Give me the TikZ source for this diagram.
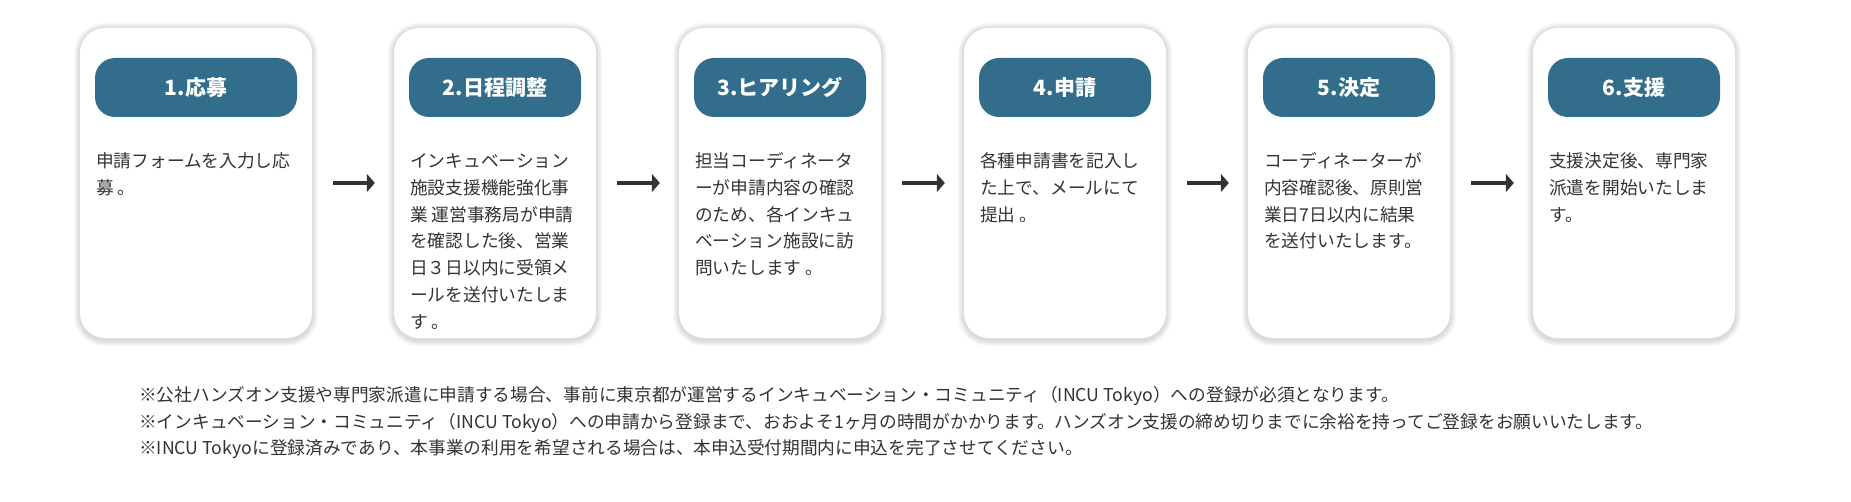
\documentclass[tikz,border=0pt]{standalone}
\usepackage{fontspec}
\setmainfont{Noto Sans CJK JP}
\usetikzlibrary{arrows.meta}
\pgfdeclarelayer{bg}
\pgfsetlayers{bg,main}
\definecolor{pillblue}{HTML}{326E8C}
\definecolor{txt}{HTML}{333333}
\begin{document}
\begin{tikzpicture}[x=1pt,y=-1pt,
 card/.style={fill=white, rounded corners=25pt, minimum height=310pt, inner sep=0pt},
 pill/.style={fill=pillblue, rounded corners=20pt, minimum height=59pt, inner sep=0pt, text=white, font=\fontsize{21}{25}\selectfont\bfseries, text height=18.5pt, text depth=2.5pt},
 body/.style={anchor=north west, inner sep=0pt, align=left, text=txt, font=\fontsize{17.7}{26.7}\selectfont},
 note/.style={anchor=north west, inner sep=0pt, align=left, text=txt, font=\fontsize{17.7}{26.5}\selectfont},
 arr/.style={draw=txt, line width=4.5pt, -{Triangle[length=8pt,width=18pt]}, shorten <=21pt, shorten >=19pt}]
\useasboundingbox (0,0) rectangle (1851,502);

% cards
\node[card, minimum width=232pt] (c1) at (196,183) {};
\node[card, minimum width=202pt] (c2) at (495,183) {};
\node[card, minimum width=202pt] (c3) at (780,183) {};
\node[card, minimum width=202pt] (c4) at (1065,183) {};
\node[card, minimum width=202pt] (c5) at (1349,183) {};
\node[card, minimum width=202pt] (c6) at (1634,183) {};

% background and shadows
\begin{pgfonlayer}{bg}
\fill[white] (0,0) rectangle (1851,502);
\foreach \c in {c1,c2,c3,c4,c5,c6}{
  \foreach \i in {1,...,6}{
    \fill[black, opacity=0.022, rounded corners={25pt+\i pt}]
      ([xshift=-\i pt, yshift={-\i pt-2pt}]\c.south west) rectangle ([xshift=\i pt, yshift={\i pt-1pt}]\c.north east);
  }
}
\end{pgfonlayer}

% headers
\node[pill, minimum width=202pt] (t1) at (196,87.5) {1.応募};
\node[pill, minimum width=172pt] (t2) at (495,87.5) {2.日程調整};
\node[pill, minimum width=172pt] (t3) at (780,87.5) {3.ヒアリング};
\node[pill, minimum width=172pt] (t4) at (1065,87.5) {4.申請};
\node[pill, minimum width=172pt] (t5) at (1349,87.5) {5.決定};
\node[pill, minimum width=172pt] (t6) at (1634,87.5) {6.支援};

% body texts
\node[body] (b1) at (96,149) {\strut 申請フォームを入力し応\\募 。};
\node[body] (b2) at (410,149) {\strut インキュベーション\\施設支援機能強化事\\業 運営事務局が申請\\を確認した後、営業\\日３日以内に受領メ\\ールを送付いたしま\\す 。};
\node[body] (b3) at (695,149) {\strut 担当コーディネータ\\ーが申請内容の確認\\のため、各インキュ\\ベーション施設に訪\\問いたします 。};
\node[body] (b4) at (980,149) {\strut 各種申請書を記入し\\た上で、メールにて\\提出 。};
\node[body] (b5) at (1264,149) {\strut コーディネーターが\\内容確認後、原則営\\業日7日以内に結果\\を送付いたします。};
\node[body] (b6) at (1549,149) {\strut 支援決定後、専門家\\派遣を開始いたしま\\す。};

% arrows
\draw[arr] (c1) -- (c2);
\draw[arr] (c2) -- (c3);
\draw[arr] (c3) -- (c4);
\draw[arr] (c4) -- (c5);
\draw[arr] (c5) -- (c6);

% notes
\node[note] (n1) at (139,383.2) {\strut ※公社ハンズオン支援や専門家派遣に申請する場合、事前に東京都が運営するインキュベーション・コミュニティ（INCU Tokyo）への登録が必須となります。\\※インキュベーション・コミュニティ（INCU Tokyo）への申請から登録まで、おおよそ1ヶ月の時間がかかります。ハンズオン支援の締め切りまでに余裕を持ってご登録をお願いいたします。\\※INCU Tokyoに登録済みであり、本事業の利用を希望される場合は、本申込受付期間内に申込を完了させてください。};
\end{tikzpicture}
\end{document}
